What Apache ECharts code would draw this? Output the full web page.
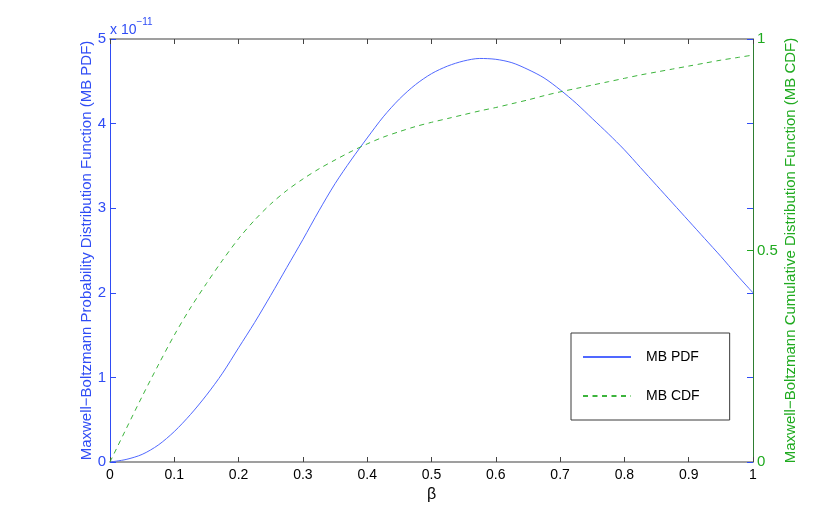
<!DOCTYPE html>
<html>
<head>
<meta charset="utf-8">
<title>Maxwell-Boltzmann PDF / CDF</title>
<script src="https://cdn.jsdelivr.net/npm/echarts@6/dist/echarts.min.js"></script>
<style>
  html, body { margin: 0; padding: 0; background: #fff; }
  #chart { width: 830px; height: 521px; }
</style>
</head>
<body>
<div id="chart"></div>
<script>
// beta samples (step 0.025) and values
const betaValues = [0, 0.025, 0.05, 0.075, 0.1, 0.125, 0.15, 0.175, 0.2, 0.225,
                    0.25, 0.275, 0.3, 0.325, 0.35, 0.375, 0.4, 0.425, 0.45, 0.475,
                    0.5, 0.525, 0.55, 0.575, 0.6, 0.625, 0.65, 0.675, 0.7, 0.725,
                    0.75, 0.775, 0.8, 0.825, 0.85, 0.875, 0.9, 0.925, 0.95, 0.975, 1.0];
// PDF in units of 10^PDF_EXPONENT
const PDF_EXPONENT = -11;
const pdfValues = [0, 0.03, 0.09, 0.20, 0.36, 0.56, 0.79, 1.05, 1.35, 1.65,
                   1.97, 2.30, 2.63, 2.97, 3.29, 3.57, 3.83, 4.08, 4.29, 4.46,
                   4.59, 4.68, 4.74, 4.77, 4.76, 4.72, 4.64, 4.54, 4.40, 4.24,
                   4.06, 3.88, 3.69, 3.48, 3.27, 3.06, 2.85, 2.64, 2.43, 2.21, 2.00];
const cdfValues = [0, 0.078, 0.155, 0.229, 0.300, 0.364, 0.422, 0.477, 0.528, 0.572,
                   0.610, 0.642, 0.669, 0.693, 0.714, 0.734, 0.752, 0.768, 0.781, 0.793,
                   0.803, 0.812, 0.821, 0.830, 0.838, 0.847, 0.856, 0.866, 0.875, 0.883,
                   0.891, 0.899, 0.907, 0.915, 0.922, 0.929, 0.936, 0.943, 0.950, 0.956, 0.962];
const seriesNames = ['MB PDF', 'MB CDF'];
const axisNames = {
    x: 'β',
    pdf: 'Maxwell−Boltzmann Probability Distribution Function (MB PDF)',
    cdf: 'Maxwell−Boltzmann Cumulative Distribution Function (MB CDF)'
};

const FONT = '"Liberation Sans", Arial, Helvetica, sans-serif';
const blue = '#2f4cf5';
const blueLine = '#5068ff';
const green = '#1faa1f';
const greenLine = '#3cb43c';
const greenAxis = '#2e7d32';
const frame = '#808080';

const chart = echarts.init(document.getElementById('chart'), null, { renderer: 'canvas' });

const pdfData = betaValues.map((b, i) => [b, pdfValues[i]]);
const cdfData = betaValues.map((b, i) => [b, cdfValues[i]]);

const fmt = v => String(Math.round(v * 10) / 10);

chart.setOption({
    animation: false,
    textStyle: { fontFamily: FONT },
    grid: { left: 110, right: 77, top: 39, bottom: 59 },
    graphic: [{
        type: 'text',
        left: 110,
        top: 17,
        style: {
            text: '{b|x 10}{s|' + String(PDF_EXPONENT).replace('-', '−') + '}',
            rich: {
                b: { fontSize: 14, fill: blue, fontFamily: FONT, verticalAlign: 'bottom', padding: [6, 0, 0, 0] },
                s: { fontSize: 10, fill: blue, fontFamily: FONT, verticalAlign: 'top' }
            }
        }
    }],
    legend: {
        orient: 'vertical',
        left: 571,
        top: 333,
        data: seriesNames,
        backgroundColor: '#fff',
        borderColor: '#3a3a3a',
        borderWidth: 1,
        borderRadius: 0,
        padding: [17, 30, 17, 11],
        itemWidth: 48,
        itemHeight: 14,
        itemGap: 25,
        itemStyle: { opacity: 0 },
        textStyle: { fontSize: 14, color: '#000', fontFamily: FONT, padding: [0, 0, 0, 10] }
    },
    xAxis: [
        {
            type: 'value', position: 'bottom', min: 0, max: 1, interval: 0.1,
            name: axisNames.x, nameLocation: 'middle', nameGap: 25,
            nameTextStyle: { fontSize: 16, color: '#000' },
            axisLine: { show: true, onZero: false, lineStyle: { color: frame, width: 1.5 } },
            axisTick: { show: true, inside: true, length: 5, lineStyle: { color: '#444' } },
            axisLabel: { color: '#000', fontSize: 14, margin: 6, formatter: fmt },
            splitLine: { show: false }
        },
        {
            type: 'value', position: 'top', min: 0, max: 1, interval: 0.1,
            axisLine: { show: true, onZero: false, lineStyle: { color: frame, width: 1.5 } },
            axisTick: { show: true, inside: true, length: 5, lineStyle: { color: '#444' } },
            axisLabel: { show: false },
            splitLine: { show: false }
        }
    ],
    yAxis: [
        {
            type: 'value', position: 'left', min: 0, max: 5, interval: 1,
            name: axisNames.pdf, nameLocation: 'middle', nameGap: 16, nameMoveOverlap: false,
            nameTextStyle: { fontSize: 15, color: blue },
            axisLine: { show: true, onZero: false, lineStyle: { color: blue, width: 1 } },
            axisTick: { show: true, inside: true, length: 6, lineStyle: { color: blue } },
            axisLabel: { color: blue, fontSize: 15, margin: 4 },
            splitLine: { show: false }
        },
        {
            type: 'value', position: 'right', min: 0, max: 1, interval: 0.5,
            name: axisNames.cdf, nameLocation: 'middle', nameGap: 30, nameMoveOverlap: false,
            nameTextStyle: { fontSize: 15, color: green },
            axisLine: { show: true, onZero: false, lineStyle: { color: greenAxis, width: 1 } },
            axisTick: { show: true, inside: true, length: 6, lineStyle: { color: green } },
            axisLabel: { color: green, fontSize: 15, margin: 4, formatter: fmt },
            splitLine: { show: false }
        },
        {
            // mirrored PDF ticks on the right edge
            type: 'value', position: 'right', min: 0, max: 5, interval: 1,
            axisLine: { show: false, onZero: false },
            axisTick: { show: true, inside: true, length: 6, lineStyle: { color: blue } },
            axisLabel: { show: false },
            splitLine: { show: false }
        }
    ],
    series: [
        {
            name: seriesNames[0], type: 'line', xAxisIndex: 0, yAxisIndex: 0,
            data: pdfData, smooth: 0.3, symbol: 'none',
            lineStyle: { color: blueLine, width: 1 },
            itemStyle: { color: blueLine }
        },
        {
            name: seriesNames[1], type: 'line', xAxisIndex: 0, yAxisIndex: 1,
            data: cdfData, smooth: 0.3, symbol: 'none',
            lineStyle: { color: greenLine, width: 1, type: [5, 4.5] },
            itemStyle: { color: greenLine }
        }
    ]
});
</script>
</body>
</html>
